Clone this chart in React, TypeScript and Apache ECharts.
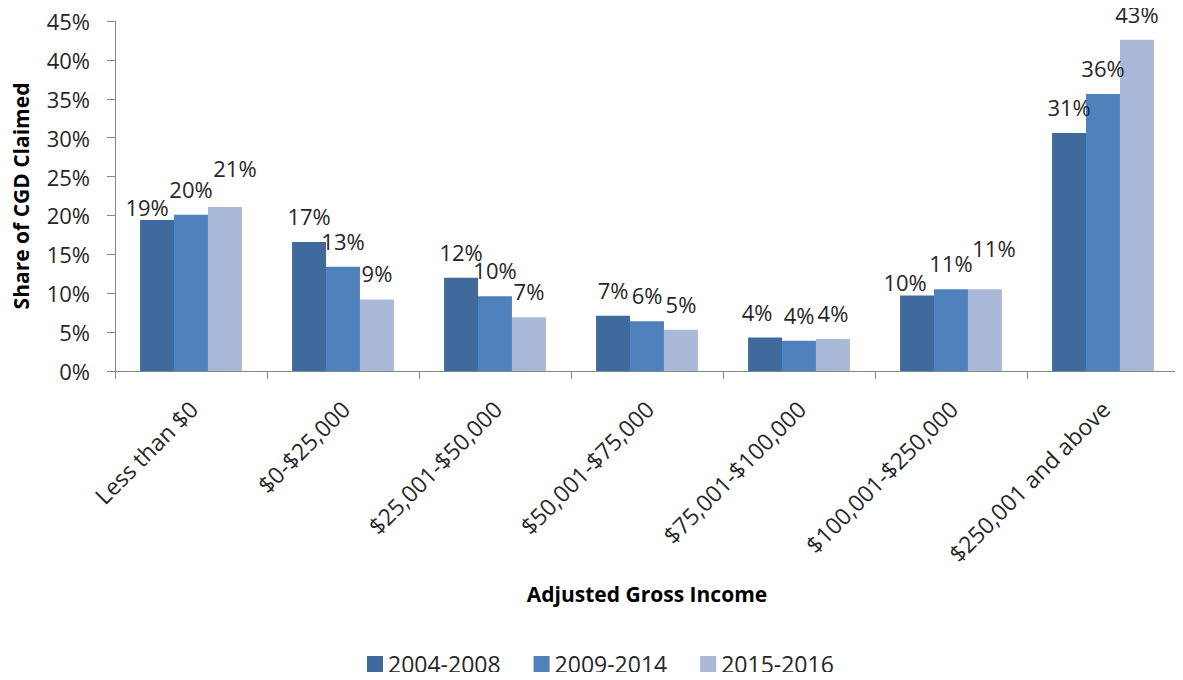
import React, { useEffect, useRef } from "react";
import * as echarts from "echarts";

const categories = [
  "Less than $0",
  "$0-$25,000",
  "$25,001-$50,000",
  "$50,001-$75,000",
  "$75,001-$100,000",
  "$100,001-$250,000",
  "$250,001 and above",
];
const seriesNames = ["2004-2008", "2009-2014", "2015-2016"];
const values2004_2008 = [19.4, 16.6, 12.0, 7.1, 4.3, 9.7, 30.6];
const values2009_2014 = [20.1, 13.4, 9.6, 6.4, 3.9, 10.5, 35.6];
const values2015_2016 = [21.1, 9.2, 6.9, 5.3, 4.1, 10.5, 42.6];
const yTicks = { min: 0, max: 45, interval: 5 };

const colors = ["#40699C", "#4F81BD", "#AAB9D7"];
// label nudges (series index, category index) -> [dx, dy], mimicking Excel's label placement
const labelNudges: Record<string, [number, number]> = {
  "0-0": [-10, 13],
  "2-0": [10, -13],
  "0-4": [-8, 0],
  "0-5": [-12, 12],
  "2-5": [9, -15],
};

const FONT = "'Open Sans', 'Noto Sans', sans-serif";
const TEXT = "#262626";

export default function App() {
  const ref = useRef<HTMLDivElement>(null);
  useEffect(() => {
    if (!ref.current) return;
    const chart = echarts.init(ref.current, undefined, { renderer: "svg" });
    const all = [values2004_2008, values2009_2014, values2015_2016];
    const series = all.map((vals, si) => ({
      name: seriesNames[si],
      type: "bar",
      barGap: "0%",
      barCategoryGap: "33%",
      itemStyle: { color: colors[si] },
      label: {
        show: true,
        position: "top",
        distance: 15,
        fontFamily: FONT,
        fontSize: 22,
        lineHeight: 22,
        color: TEXT,
        formatter: (p: any) => Math.round(p.value) + "%",
      },
      data: vals.map((v, ci) => {
        const n = labelNudges[`${si}-${ci}`];
        return n ? { value: v, label: { offset: n } } : { value: v };
      }),
    }));
    chart.setOption({
      animation: false,
      backgroundColor: "#ffffff",
      textStyle: { fontFamily: FONT },
      grid: { left: 115, right: 4, top: 21, bottom: 309 },
      legend: {
        data: seriesNames,
        left: 362,
        top: 646,
        itemWidth: 16,
        itemHeight: 16,
        itemGap: 33,
        icon: "rect",
        textStyle: { fontFamily: FONT, fontSize: 23, lineHeight: 26, color: TEXT },
      },
      xAxis: {
        type: "category",
        data: categories,
        name: "Adjusted Gross Income",
        nameLocation: "middle",
        nameGap: 212,
        nameTextStyle: { fontFamily: FONT, fontSize: 21, fontWeight: "bold", color: "#000" },
        axisLine: { lineStyle: { color: "#868686", width: 1 } },
        axisTick: { show: true, length: 8, alignWithLabel: false, lineStyle: { color: "#868686" } },
        axisLabel: {
          interval: 0,
          rotate: 45,
          margin: 20,
          verticalAlign: "top",
          padding: [0, 8, 0, 0],
          fontFamily: FONT,
          fontSize: 23,
          color: TEXT,
        },
        splitLine: { show: false },
      },
      yAxis: {
        type: "value",
        min: yTicks.min,
        max: yTicks.max,
        interval: yTicks.interval,
        name: "Share of CGD Claimed",
        nameLocation: "middle",
        nameGap: 84,
        nameTextStyle: { fontFamily: FONT, fontSize: 21, fontWeight: "bold", color: "#000" },
        axisLine: { show: true, lineStyle: { color: "#868686", width: 1 } },
        axisTick: { show: true, length: 8, lineStyle: { color: "#868686" } },
        axisLabel: {
          margin: 25,
          fontFamily: FONT,
          fontSize: 22,
          color: TEXT,
          formatter: "{value}%",
        },
        splitLine: { show: false },
      },
      series,
    });
    return () => chart.dispose();
  }, []);
  return <div ref={ref} style={{ width: 1183, height: 680, margin: -8 }} />;
}
